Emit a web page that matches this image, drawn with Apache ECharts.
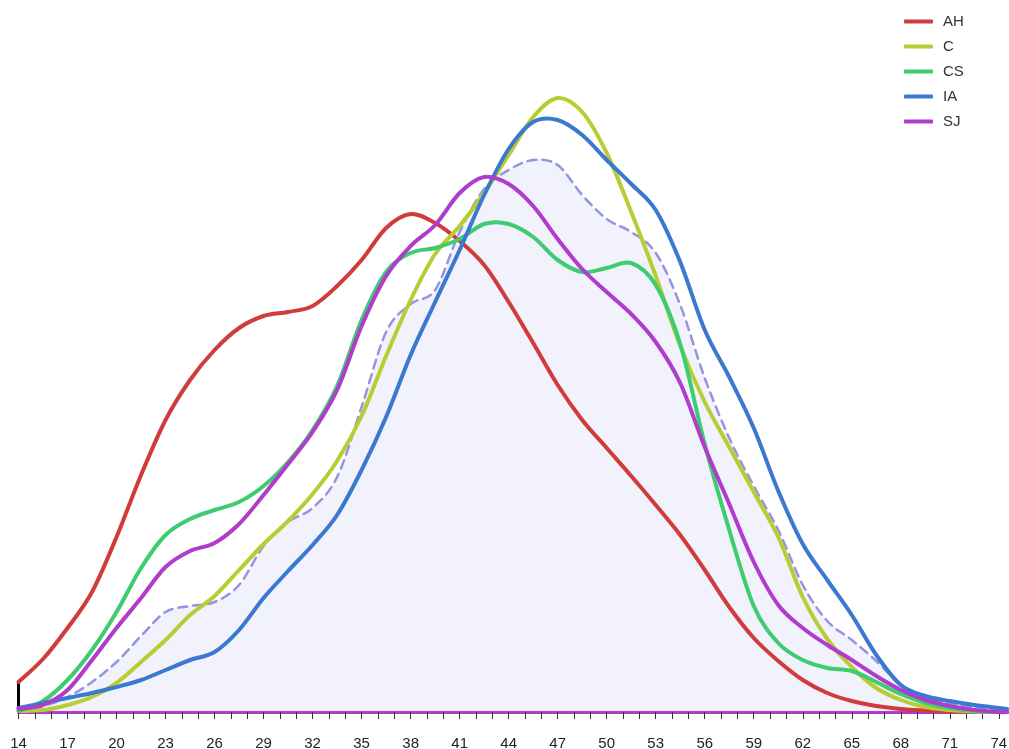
<!DOCTYPE html>
<html>
<head>
<meta charset="utf-8">
<script src="https://cdn.jsdelivr.net/npm/echarts@6/dist/echarts.min.js"></script>
<style>
html,body{margin:0;padding:0;background:#fff;}
#chart{width:1009px;height:749px;}
</style>
</head>
<body>
<div id="chart"></div>
<script>
// x positions of the density estimate
const xs = [14,15.5,17,18.5,20,21.5,23,24.5,26,27.5,29,30.5,32,33.5,35,36.5,38,39.5,41,42.5,44,45.5,47,48.5,50,51.5,53,54.5,56,57.5,59,60.5,62,63.5,65,66.5,68,69.5,71,72.5,74,74.5];
// density values (arbitrary units)
const AH = [30,53,84,120,175,237,292,332,362,384,396,400,406,426,452,484,498,489,471,447,410,369,327,292,264,236,207,177,142,105,74,51,32,19,11,6,3,1.5,0.5,0,0,0];
const C  = [1,2,7,15,29,50,72,97,116,142,168,191,218,251,296,356,412,458,486,519,557,595,614,600,559,500,436,366,310,265,220,175,115,73,45,24,12,5,2,0.5,0,0];
const CS = [1,11,32,62,100,144,177,193,202,210,226,250,282,326,392,440,459,464,473,488,488,475,452,440,444,449,427,368,268,182,106,69,52,44,41,30,18,9,4,1,0,0];
const IA = [4,9,14,19,25,32,42,52,60,82,114,141,167,197,242,295,357,410,462,517,563,590,592,577,552,528,502,450,382,335,284,221,168,132,97,57,27,16,11,7,4,3];
const SJ = [3,7,22,52,84,114,145,161,169,188,217,248,280,322,386,436,466,487,519,535,528,506,473,443,420,398,370,329,265,208,150,107,84,67,52,36,22,12,6,2,0,0];
const ALL = [2,6,15,30,50,76,100,106,110,127,166,190,204,235,305,380,408,422,480,523,542,552,547,517,493,480,459,407,334,274,226,182,127,91,72,51,27,15,9,5,2,1];
const groupNames = ['AH','C','CS','IA','SJ'];
const groupValues = [AH, C, CS, IA, SJ];
const colors = ['#d03c3c','#b8cc33','#3dcc70','#3b78d0','#b03ccc'];
const tickStart = 14, tickStep = 3;

// Catmull-Rom spline through pixel points -> SVG path
function splinePath(pts){
  const f = v => v.toFixed(2);
  let d = 'M' + f(pts[0][0]) + ',' + f(pts[0][1]);
  for (let i = 0; i < pts.length - 1; i++) {
    const p0 = pts[i-1] || pts[i], p1 = pts[i], p2 = pts[i+1], p3 = pts[i+2] || pts[i+1];
    const c1x = p1[0] + (p2[0]-p0[0])/6, c1y = p1[1] + (p2[1]-p0[1])/6;
    const c2x = p2[0] - (p3[0]-p1[0])/6, c2y = p2[1] - (p3[1]-p1[1])/6;
    d += ' C' + f(c1x) + ',' + f(c1y) + ' ' + f(c2x) + ',' + f(c2y) + ' ' + f(p2[0]) + ',' + f(p2[1]);
  }
  return d;
}

function curveSeries(name, vals, color, opts){
  return {
    name: name, type: 'custom', data: [[xs[0], 0]], z: opts.z, silent: true,
    itemStyle: {color: color},
    renderItem: function(params, api){
      const pts = xs.map((x,i)=>api.coord([x, vals[i]]));
      let d = splinePath(pts);
      if (opts.area) {
        const base = api.coord([xs[xs.length-1], 0])[1];
        d += ' L' + pts[pts.length-1][0].toFixed(2) + ',' + base.toFixed(2) +
             ' L' + pts[0][0].toFixed(2) + ',' + base.toFixed(2) + ' Z';
        return {type: 'path', shape: {pathData: d}, style: {fill: opts.fill, stroke: null}};
      }
      return {type: 'path', shape: {pathData: d},
        style: {fill: null, stroke: color, lineWidth: opts.width, lineDash: opts.dash || null, lineCap: 'round', lineJoin: 'round'}};
    }
  };
}

const series = [];
series.push(curveSeries('allArea', ALL, '#9494e0', {area: true, fill: 'rgba(150,150,230,0.12)', z: 1}));
series.push(curveSeries('all', ALL, '#9494e0', {width: 2.5, dash: [9,6], z: 2}));
groupNames.forEach((n,i)=>{
  series.push(curveSeries(n, groupValues[i], colors[i], {width: 4, z: 3}));
});
series.push({
  name: 'start', type: 'line', data: [[xs[0],0],[xs[0],AH[0]]], symbol: 'none',
  lineStyle: {color: '#000', width: 3}, z: 2, silent: true
});

const chart = echarts.init(document.getElementById('chart'), null, {renderer: 'canvas'});
chart.setOption({
  animation: false,
  backgroundColor: '#fff',
  grid: {left: 18.5, right: 2, top: 0, bottom: 37, containLabel: false, outerBoundsMode: 'none'},
  legend: {
    data: groupNames.map((n,i)=>({name: n, icon: 'roundRect', itemStyle: {color: colors[i]}})),
    orient: 'vertical', left: 899, top: 9,
    itemWidth: 29, itemHeight: 4, itemGap: 10,
    textStyle: {fontSize: 15, color: '#333', fontFamily: 'Liberation Sans, Arial, sans-serif', padding: [0,0,0,5]}
  },
  xAxis: {
    type: 'value', min: 14, max: 74.5, interval: 1,
    axisLine: {show: true, lineStyle: {color: '#b03ccc', width: 3}},
    axisTick: {show: true, length: 7, lineStyle: {color: '#333', width: 1}},
    splitLine: {show: false},
    axisLabel: {
      show: true, margin: 24, fontSize: 15, color: '#222',
      fontFamily: 'Liberation Sans, Arial, sans-serif',
      showMaxLabel: false,
      formatter: v => (Math.abs(((v - tickStart) % tickStep)) < 1e-9 ? String(v) : '')
    }
  },
  yAxis: {type: 'value', min: 0, max: 712, show: false, splitLine: {show: false}},
  series: series
});
</script>
</body>
</html>
